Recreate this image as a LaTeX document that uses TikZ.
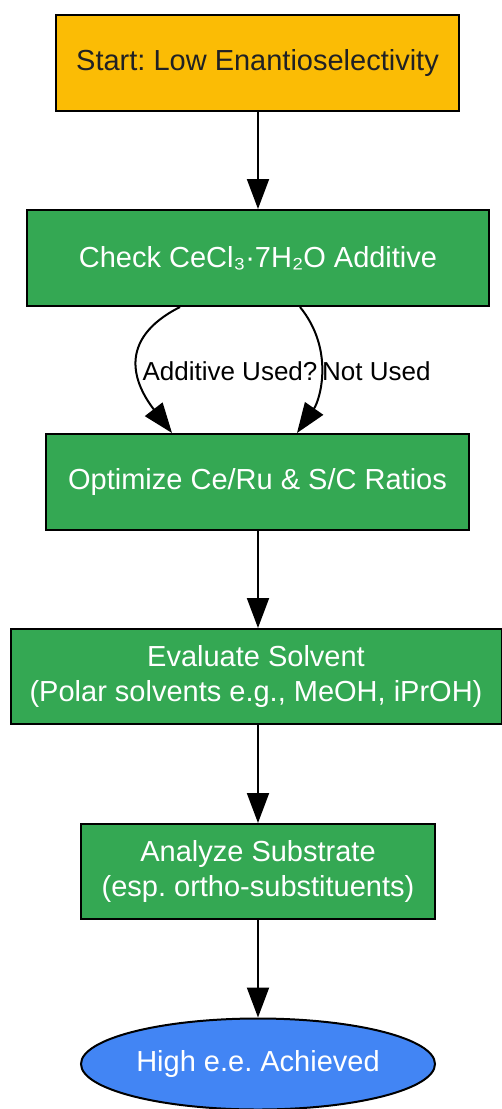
\documentclass[tikz,border=0pt]{standalone}
\usepackage{fontspec}
\setmainfont{Liberation Sans}
\frenchspacing
\usetikzlibrary{shapes.geometric,arrows.meta}
\definecolor{cyellow}{HTML}{FBBC05}
\definecolor{cgreen}{HTML}{34A853}
\definecolor{cblue}{HTML}{4285F4}
\definecolor{cdark}{HTML}{202124}
\tikzset{
  box/.style={draw=black, line width=2pt, rectangle, inner sep=0pt, align=center,
    font=\fontsize{29}{35}\selectfont},
  greenbox/.style={box, fill=cgreen, text=white},
  edge/.style={line width=2pt, -{Triangle[length=30pt,width=22pt]}},
  elabel/.style={font=\fontsize{26}{30}\selectfont, text=black, inner sep=0pt}
}
\begin{document}
\frenchspacing
\begin{tikzpicture}[x=1pt,y=1pt]
\useasboundingbox (0,0) rectangle (502,-1109);
\node[box, fill=cyellow, text=cdark, minimum width=403pt, minimum height=96pt] (start) at (257.5,-63) {Start: Low Enantioselectivity};
\node[greenbox, minimum width=462pt, minimum height=96pt] (check) at (258,-258) {Check CeCl₃·7H₂O Additive};
\node[greenbox, minimum width=423pt, minimum height=96pt] (opt) at (257.5,-482) {Optimize Ce/Ru \& S/C Ratios};
\node[greenbox, minimum width=491pt, minimum height=95pt] (eval) at (256,-676.5) {Evaluate Solvent\\(Polar solvents e.g., MeOH, iPrOH)};
\node[greenbox, minimum width=354pt, minimum height=95pt] (anal) at (258,-871.5) {Analyze Substrate\\(esp. ortho-substituents)};
\node[draw=black, line width=2pt, ellipse, fill=cblue, text=white, inner sep=0pt,
  minimum width=354pt, minimum height=91pt, font=\fontsize{29}{35}\selectfont] (end) at (258,-1064) {High e.e. Achieved};

\coordinate (ax) at (258,0);
\draw[edge] (start.south -| ax) -- (check.north -| ax);
\draw[edge] ([xshift=-78pt]check.south) .. controls (115,-340) and (135,-385) .. ([xshift=-85.5pt]opt.north);
\draw[edge] ([xshift=42pt]check.south) .. controls (335,-350) and (320,-400) .. ([xshift=39.5pt]opt.north);
\draw[edge] (opt.south -| ax) -- (eval.north -| ax);
\draw[edge] (eval.south -| ax) -- (anal.north -| ax);
\draw[edge] (anal.south -| ax) -- (end.north -| ax);

\node[elabel] (l1) at (230,-371) {Additive Used?};
\node[elabel, anchor=west] (l2) at (322,-371) {Not Used};
\end{tikzpicture}
\end{document}
